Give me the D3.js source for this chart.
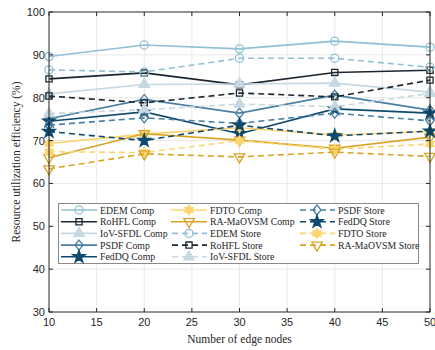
<!DOCTYPE html>
<html><head><meta charset="utf-8">
<script src="https://cdn.jsdelivr.net/npm/d3@7"></script>
<style>body{margin:0;background:#fff}svg{display:block}</style>
</head><body><svg id="c" width="435" height="350"></svg>
<script>
const nodes = [10, 20, 30, 40, 50];
const xTicks = [10, 15, 20, 25, 30, 35, 40, 45, 50];
const yTicks = [30, 40, 50, 60, 70, 80, 90, 100];
const seriesNames = ["EDEM Comp","RoHFL Comp","IoV-SFDL Comp","PSDF Comp","FedDQ Comp","FDTO Comp","RA-MaOVSM Comp",
  "EDEM Store","RoHFL Store","IoV-SFDL Store","PSDF Store","FedDQ Store","FDTO Store","RA-MaOVSM Store"];
const edemComp = [89.6, 92.3, 91.4, 93.2, 91.8];
const rohflComp = [84.4, 85.8, 83.0, 85.9, 86.4];
const iovComp = [80.9, 83.1, 83.2, 83.4, 81.3];
const psdfComp = [75.1, 79.6, 76.4, 80.6, 77.1];
const feddqComp = [74.5, 76.7, 71.6, 77.4, 76.4];
const fdtoComp = [69.3, 71.5, 73.0, 71.3, 72.1];
const raComp = [66.0, 71.6, 70.1, 68.2, 70.8];
const edemStore = [86.5, 86.0, 89.2, 89.2, 87.1];
const rohflStore = [80.4, 78.8, 81.1, 80.2, 84.1];
const iovStore = [76.3, 77.2, 78.5, 77.9, 81.0];
const psdfStore = [73.6, 75.3, 74.0, 76.4, 74.6];
const feddqStore = [72.1, 70.0, 73.6, 71.1, 72.2];
const fdtoStore = [67.4, 67.2, 70.0, 68.0, 69.2];
const raStore = [63.4, 66.9, 66.2, 67.3, 66.3];
const seriesValues = [edemComp, rohflComp, iovComp, psdfComp, feddqComp, fdtoComp, raComp,
  edemStore, rohflStore, iovStore, psdfStore, feddqStore, fdtoStore, raStore];

const methodColor = {EDEM:"#8fc0d6", RoHFL:"#1c2630", "IoV-SFDL":"#c6d8e2", PSDF:"#4a80a3", FedDQ:"#0e4a70", FDTO:"#fdd56e", "RA-MaOVSM":"#d8a424"};
const methodMarker = {EDEM:"circle", RoHFL:"square", "IoV-SFDL":"tri", PSDF:"diamond", FedDQ:"star", FDTO:"hex", "RA-MaOVSM":"trid"};
const filledMarker = {tri:true, star:true, hex:true};

const svg = d3.select("#c");
const L = 49, R = 430, T = 12, B = 312;
const x = d3.scaleLinear().domain([10, 50]).range([L, R]);
const y = d3.scaleLinear().domain([30, 100]).range([B, T]);

// grid
svg.append("g").selectAll("line").data(xTicks.slice(1, -1)).join("line")
  .attr("x1", d => x(d)).attr("x2", d => x(d)).attr("y1", T).attr("y2", B)
  .attr("stroke", "#e3e3e3").attr("stroke-width", 0.8);
svg.append("g").selectAll("line").data(yTicks.slice(1, -1)).join("line")
  .attr("y1", d => y(d)).attr("y2", d => y(d)).attr("x1", L).attr("x2", R)
  .attr("stroke", "#e3e3e3").attr("stroke-width", 0.8);

function markerPath(type) {
  if (type === "circle") return d3.symbol(d3.symbolCircle, 52)();
  if (type === "square") return d3.symbol(d3.symbolSquare, 38)();
  if (type === "tri") return d3.symbol(d3.symbolTriangle, 48)();
  if (type === "trid") return d3.symbol(d3.symbolTriangle, 48)();
  if (type === "diamond") return "M0,-5L4,0L0,5L-4,0Z";
  if (type === "star") return d3.symbol(d3.symbolStar, 50)();
  if (type === "hex") {
    let p = "";
    for (let i = 0; i < 12; i++) {
      const r = i % 2 === 0 ? 4.8 : 2.8;
      const a = -Math.PI / 2 + i * Math.PI / 6;
      p += (i ? "L" : "M") + (r * Math.cos(a)).toFixed(2) + "," + (r * Math.sin(a)).toFixed(2);
    }
    return p + "Z";
  }
}
function drawMarker(g, type, col, cx, cy) {
  g.append("path").attr("d", markerPath(type))
    .attr("transform", `translate(${cx},${cy})` + (type === "trid" ? " rotate(180)" : ""))
    .attr("fill", filledMarker[type] ? col : "none")
    .attr("stroke", col).attr("stroke-width", 1.3);
}

const line = d3.line().x((d, i) => x(nodes[i])).y(d => y(d));
const plot = svg.append("g");
seriesNames.forEach((name, k) => {
  const method = name.replace(/ (Comp|Store)$/, "");
  const col = methodColor[method];
  const dashed = name.endsWith("Store");
  const vals = seriesValues[k];
  const g = plot.append("g");
  g.append("path").datum(vals).attr("d", line).attr("fill", "none")
    .attr("stroke", col).attr("stroke-width", 1.6)
    .attr("stroke-dasharray", dashed ? "6,4" : null);
  vals.forEach((v, i) => drawMarker(g, methodMarker[method], col, x(nodes[i]), y(v)));
});

// axes box
const ax = svg.append("g");
ax.append("rect").attr("x", L).attr("y", T).attr("width", R - L).attr("height", B - T)
  .attr("fill", "none").attr("stroke", "#262626").attr("stroke-width", 1);
xTicks.forEach(t => {
  ax.append("line").attr("x1", x(t)).attr("x2", x(t)).attr("y1", B).attr("y2", B - 4).attr("stroke", "#262626");
  ax.append("line").attr("x1", x(t)).attr("x2", x(t)).attr("y1", T).attr("y2", T + 4).attr("stroke", "#262626");
  ax.append("text").attr("x", x(t)).attr("y", B + 14).attr("text-anchor", "middle")
    .attr("font-family", "Liberation Sans, Arial, sans-serif").attr("font-size", 11).attr("fill", "#262626").text(t);
});
yTicks.forEach(t => {
  ax.append("line").attr("x1", L).attr("x2", L + 4).attr("y1", y(t)).attr("y2", y(t)).attr("stroke", "#262626");
  ax.append("line").attr("x1", R).attr("x2", R - 4).attr("y1", y(t)).attr("y2", y(t)).attr("stroke", "#262626");
  ax.append("text").attr("x", L - 4).attr("y", y(t) + 4).attr("text-anchor", "end")
    .attr("font-family", "Liberation Sans, Arial, sans-serif").attr("font-size", 11).attr("fill", "#262626").text(t);
});
svg.append("text").attr("x", (L + R) / 2).attr("y", 343).attr("text-anchor", "middle")
  .attr("font-family", "Liberation Serif, Times New Roman, serif").attr("font-size", 11.5).attr("fill", "#262626")
  .text("Number of edge nodes");
svg.append("text").attr("transform", `translate(20,${(T + B) / 2}) rotate(-90)`).attr("text-anchor", "middle")
  .attr("font-family", "Liberation Serif, Times New Roman, serif").attr("font-size", 11.5).attr("fill", "#262626")
  .text("Resource utilization efficiency (%)");

// legend
const lg = svg.append("g");
lg.append("rect").attr("x", 58.5).attr("y", 203.5).attr("width", 360).attr("height", 60)
  .attr("fill", "#fff").attr("stroke", "#8a8a8a").attr("stroke-width", 1);
const colX = [61, 171, 299];
seriesNames.forEach((name, k) => {
  const c = Math.floor(k / 5), r = k % 5;
  const method = name.replace(/ (Comp|Store)$/, "");
  const col = methodColor[method];
  const dashed = name.endsWith("Store");
  const x0 = colX[c], yy = 210 + r * 11.7;
  lg.append("line").attr("x1", x0).attr("x2", x0 + 36).attr("y1", yy).attr("y2", yy)
    .attr("stroke", col).attr("stroke-width", 1.6).attr("stroke-dasharray", dashed ? "6,4" : null)
    .attr("stroke-dashoffset", dashed ? -1 : 0);
  drawMarker(lg, methodMarker[method], col, x0 + 18, yy);
  lg.append("text").attr("x", x0 + 39).attr("y", yy + 3.6)
    .attr("font-family", "Liberation Serif, Times New Roman, serif").attr("font-size", 9.8).attr("fill", "#262626")
    .text(name);
});
</script></body></html>
